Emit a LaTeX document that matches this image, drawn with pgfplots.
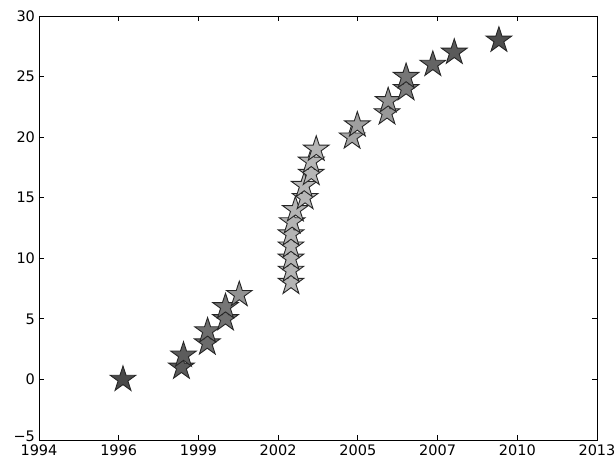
\documentclass[border=0pt]{standalone}
\usepackage{pgfplots}
\pgfplotsset{compat=1.18}
\usepackage{fontspec}
\setmainfont{DejaVu Sans}
\pgfdeclareplotmark{fstar}{%
  \pgfpathmoveto{\pgfpointpolar{90}{\pgfplotmarksize}}%
  \pgfpathlineto{\pgfpointpolar{126}{0.382\pgfplotmarksize}}%
  \pgfpathlineto{\pgfpointpolar{162}{\pgfplotmarksize}}%
  \pgfpathlineto{\pgfpointpolar{198}{0.382\pgfplotmarksize}}%
  \pgfpathlineto{\pgfpointpolar{234}{\pgfplotmarksize}}%
  \pgfpathlineto{\pgfpointpolar{270}{0.382\pgfplotmarksize}}%
  \pgfpathlineto{\pgfpointpolar{306}{\pgfplotmarksize}}%
  \pgfpathlineto{\pgfpointpolar{342}{0.382\pgfplotmarksize}}%
  \pgfpathlineto{\pgfpointpolar{18}{\pgfplotmarksize}}%
  \pgfpathlineto{\pgfpointpolar{54}{0.382\pgfplotmarksize}}%
  \pgfpathclose
  \pgfusepathqfillstroke
}
\pgfplotstableread{
x y g
1996.86 0 0.29
1998.85 1 0.35
1998.92 2 0.36
1999.73 3 0.42
1999.74 4 0.43
2000.35 5 0.44
2000.35 6 0.46
2000.82 7 0.57
2002.58 8 0.70
2002.58 9 0.70
2002.58 10 0.70
2002.58 11 0.70
2002.58 12 0.70
2002.62 13 0.70
2002.73 14 0.70
2003.06 15 0.71
2003.03 16 0.71
2003.27 17 0.71
2003.27 18 0.71
2003.44 19 0.70
2004.66 20 0.64
2004.84 21 0.62
2005.85 22 0.59
2005.89 23 0.57
2006.50 24 0.48
2006.50 25 0.46
2007.41 26 0.39
2008.14 27 0.35
2009.66 28 0.30
}\datatable
\begin{document}
\fontsize{14.5}{17}\selectfont
\begin{tikzpicture}
\begin{axis}[
  at={(0,0)}, anchor=south west,
  scale only axis, width=558pt, height=424pt,
  xmin=1994, xmax=2013, ymin=-5, ymax=30,
  xtick={1994,1996.7143,1999.4286,2002.1429,2004.8571,2007.5714,2010.2857,2013},
  xticklabels={1994,1996,1999,2002,2005,2007,2010,2013},
  ytick={0,5,10,15,20,25,30},
  yticklabels={0,5,10,15,20,25,30},
  extra y ticks={-5},
  extra y tick labels={−5},
  extra y tick style={yticklabel style={yshift=4pt}},
  tick align=inside, major tick length=5pt,
  tick style={black, line width=0.8pt},
  axis line style={line width=0.9pt},
  ticklabel style={font=\fontsize{14.5}{17}\selectfont},
  xticklabel style={yshift=0pt},
  yticklabel style={xshift=1pt},
  colormap={greys}{gray(0cm)=(0); gray(1cm)=(1)},
  point meta min=0, point meta max=1,
]
\addplot[scatter, only marks, mark=fstar, mark size=13.5pt,
  scatter src=explicit,
  scatter/use mapped color={draw=black!85, fill=mapped color},
  line width=0.9pt] table[x=x, y=y, meta=g] {\datatable};
\end{axis}
\pgfresetboundingbox
\path[use as bounding box] (-39pt,-21pt) rectangle (577pt,440pt);
\end{tikzpicture}
\end{document}
